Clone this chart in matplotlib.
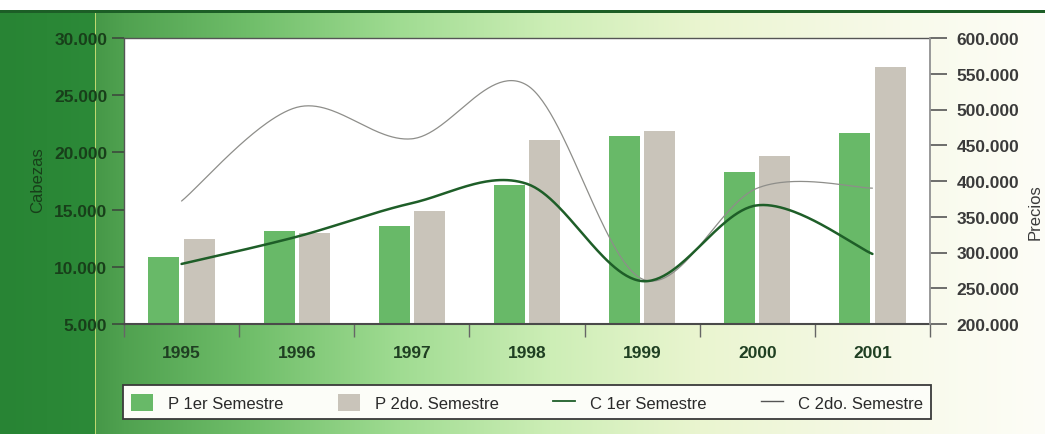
import numpy as np
import matplotlib
matplotlib.use("Agg")
import matplotlib.pyplot as plt
from matplotlib.ticker import FuncFormatter, FixedLocator
from matplotlib.patches import Rectangle, Patch
from matplotlib.lines import Line2D

# ---------------- data ----------------
years = ["1995", "1996", "1997", "1998", "1999", "2000", "2001"]
p_1er = [10860, 13150, 13570, 17150, 21430, 18290, 21700]      # Cabezas (left axis)
p_2do = [12430, 12950, 14880, 21080, 21870, 19690, 27470]
c_1er = [284000, 322000, 369000, 396000, 260000, 366000, 298000]  # Precios (right axis)
c_2do = [372000, 503000, 459000, 534000, 263000, 390000, 390000]
left_ticks = [5000, 10000, 15000, 20000, 25000, 30000]
right_ticks = [200000, 250000, 300000, 350000, 400000, 450000, 500000, 550000, 600000]

FONT = ["Liberation Sans", "DejaVu Sans"]
plt.rcParams["font.family"] = FONT

W, H = 1045, 435
fig = plt.figure(figsize=(W / 100, H / 100), dpi=100)

# ---------------- background ----------------
bg = fig.add_axes([0, 0, 1, 1], zorder=-10)
bg.set_axis_off()
xs = np.arange(W)
stops_x = [0, 94, 96, 124, 250, 400, 550, 700, 900, 1045]
stops_c = np.array([
    (40, 132, 52), (44, 138, 56), (70, 152, 72), (80, 162, 80), (112, 190, 106),
    (160, 220, 146), (205, 238, 182), (234, 245, 208), (248, 250, 234), (253, 253, 247)]) / 255.0
row = np.stack([np.interp(xs, stops_x, stops_c[:, k]) for k in range(3)], axis=1)
img = np.repeat(row[None, :, :], H, axis=0)
img[:, 95, :] = np.array([190, 215, 110]) / 255.0
bg.imshow(img, extent=[0, W, H, 0], aspect="auto", interpolation="bilinear")
bg.set_xlim(0, W)
bg.set_ylim(H, 0)
bg.add_patch(Rectangle((0, 0), W, 10.5, color="white", lw=0))
bg.add_patch(Rectangle((0, 10.5), W, 3.5, color="#1c5e26", lw=0))

# ---------------- main axes ----------------
ax = fig.add_axes([124 / W, 110 / H, 806 / W, 286 / H])
ax.set_facecolor("white")
x = np.arange(len(years))
bw = 0.27
off = 0.153
ax.bar(x - off, p_1er, width=bw, color="#68b968", zorder=2)
ax.bar(x + off, p_2do, width=bw, color="#c9c4ba", zorder=2)
ax.set_xlim(-0.5, len(years) - 0.5)
ax.set_ylim(5000, 30000)

fmt = FuncFormatter(lambda v, p: f"{int(round(v)):,}".replace(",", "."))
ax.yaxis.set_major_locator(FixedLocator(left_ticks))
ax.yaxis.set_major_formatter(fmt)
ax.tick_params(axis="y", direction="out", length=9, width=1.2, color="#3d4a3d",
               pad=3, labelsize=12.5, labelcolor="#183f1a")
for lab in ax.get_yticklabels():
    lab.set_fontweight("bold")

ax.xaxis.set_major_locator(FixedLocator(np.arange(-0.5, len(years), 1.0)))
ax.xaxis.set_major_formatter(FuncFormatter(lambda v, p: ""))
ax.xaxis.set_minor_locator(FixedLocator(x))
ax.set_xticks(x, minor=True)
ax.set_xticklabels(years, minor=True, fontweight="bold", fontsize=12.5, color="#1f3f22")
ax.tick_params(axis="x", which="major", direction="out", length=9, width=1.0, color="#666666")
ax.tick_params(axis="x", which="minor", length=0, pad=15)

for s in ["left", "top"]:
    ax.spines[s].set_color("#555555")
    ax.spines[s].set_linewidth(1.0)
ax.spines["bottom"].set_color("#4a4a4a")
ax.spines["bottom"].set_linewidth(1.5)
ax.spines["right"].set_color("#999999")
ax.spines["right"].set_linewidth(1.2)

# ---------------- smoothed lines on right axis ----------------
def smooth(xv, yv, n=60):
    P = np.column_stack([xv, yv]).astype(float)
    out = []
    m = len(P)
    t = np.linspace(0, 1, n)[:, None]
    for i in range(m - 1):
        p0 = P[max(i - 1, 0)]
        p1 = P[i]
        p2 = P[i + 1]
        p3 = P[min(i + 2, m - 1)]
        c1 = p1 + (p2 - p0) / 6.0
        c2 = p2 - (p3 - p1) / 6.0
        B = ((1 - t) ** 3) * p1 + 3 * ((1 - t) ** 2) * t * c1 + 3 * (1 - t) * t ** 2 * c2 + t ** 3 * p2
        out.append(B if i == 0 else B[1:])
    B = np.vstack(out)
    return B[:, 0], B[:, 1]

ax2 = ax.twinx()
ax2.set_ylim(200000, 600000)
sx, sy = smooth(x, c_2do)
ax2.plot(sx, sy, color="#8e8e8a", lw=0.9, solid_capstyle="round")
sx, sy = smooth(x, c_1er)
ax2.plot(sx, sy, color="#1e5e28", lw=1.8, solid_capstyle="round")
ax2.yaxis.set_major_locator(FixedLocator(right_ticks))
ax2.yaxis.set_major_formatter(fmt)
ax2.tick_params(axis="y", direction="out", length=12, width=1.2, color="#555555",
                pad=7, labelsize=12.5, labelcolor="#3a3a3a")
for lab in ax2.get_yticklabels():
    lab.set_fontweight("bold")
for s in ["left", "top", "bottom"]:
    ax2.spines[s].set_visible(False)
ax2.spines["right"].set_color("#999999")
ax2.spines["right"].set_linewidth(1.2)

# axis titles
fig.text(38 / W, 1 - 180 / H, "Cabezas", rotation=90, ha="center", va="center",
         fontsize=12, color="#183f1a")
fig.text(1035 / W, 1 - 212 / H, "Precios", rotation=90, ha="center", va="center",
         fontsize=12, color="#3a3a3a")

# ---------------- legend ----------------
handles = [
    Patch(facecolor="#68b968", edgecolor="none"),
    Patch(facecolor="#c9c4ba", edgecolor="none"),
    Line2D([], [], color="#1e5e28", lw=1.3),
    Line2D([], [], color="#555555", lw=1.0),
]
labels = ["P 1er Semestre", "P 2do. Semestre", "C 1er Semestre", "C 2do. Semestre"]
leg = fig.legend(handles, labels, loc="lower left",
                 bbox_to_anchor=(123 / W, 15 / H, 808 / W, 40 / H),
                 mode="expand", ncol=4, frameon=True, fancybox=False,
                 fontsize=12, handlelength=1.3, handleheight=1.2, handletextpad=0.9,
                 borderpad=0.5, borderaxespad=0.0)
leg.get_frame().set_edgecolor("#3a3a3a")
leg.get_frame().set_linewidth(1.3)
leg.get_frame().set_facecolor("#fcfdf8")
leg.get_frame().set_alpha(1.0)
for t in leg.get_texts():
    t.set_color("#2a2a2a")

fig.savefig("out.png", dpi=100)
